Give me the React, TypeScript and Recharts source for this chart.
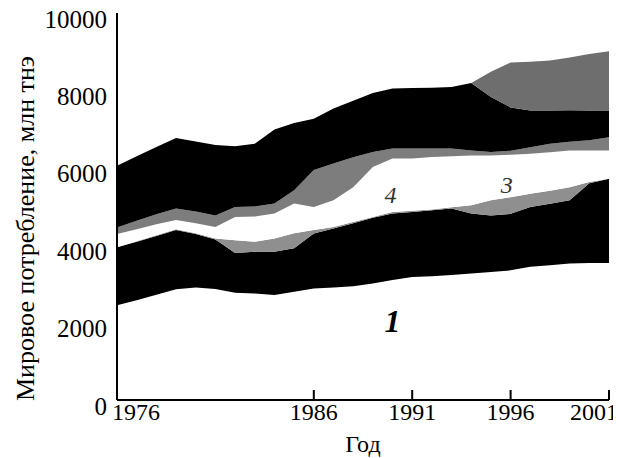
import { AreaChart, Area, XAxis, YAxis, ReferenceDot, Label } from 'recharts';

const years = [
  1976, 1977, 1978, 1979, 1980, 1981, 1982, 1983, 1984, 1985, 1986, 1987, 1988,
  1989, 1990, 1991, 1992, 1993, 1994, 1995, 1996, 1997, 1998, 1999, 2000, 2001,
];

// layer thicknesses, bottom to top (млн тнэ)
const layer1 = [2450, 2580, 2720, 2860, 2910, 2870, 2770, 2750, 2710, 2800, 2880, 2910, 2940, 3010, 3100, 3180, 3200, 3230, 3270, 3310, 3350, 3440, 3480, 3530, 3540, 3540];
const layer2 = [1500, 1510, 1520, 1530, 1380, 1280, 1030, 1080, 1120, 1120, 1420, 1520, 1630, 1700, 1720, 1680, 1700, 1720, 1550, 1460, 1460, 1550, 1590, 1630, 2060, 2180];
const layer2b = [0, 10, 20, 20, 20, 20, 330, 260, 340, 390, 90, 40, 30, 20, 40, 30, 20, 30, 210, 390, 430, 340, 340, 340, 30, 0];
const layer3 = [340, 310, 280, 240, 260, 300, 600, 650, 650, 770, 600, 690, 900, 1290, 1380, 1350, 1360, 1320, 1290, 1160, 1100, 1030, 990, 950, 820, 730];
const layer3b = [170, 220, 260, 300, 300, 300, 260, 260, 260, 340, 950, 950, 770, 390, 260, 260, 220, 200, 130, 90, 100, 170, 220, 220, 260, 340];
const layer4 = [1590, 1670, 1740, 1820, 1810, 1820, 1570, 1620, 1910, 1740, 1330, 1420, 1460, 1520, 1550, 1560, 1570, 1590, 1740, 1420, 1120, 950, 860, 820, 770, 690];
const layer5 = [0, 0, 0, 0, 0, 0, 0, 0, 0, 0, 0, 0, 0, 0, 0, 0, 0, 0, 0, 650, 1160, 1260, 1290, 1360, 1460, 1530];

const xTicks = [1976, 1986, 1991, 1996, 2001];
const yTicks = [0, 2000, 4000, 6000, 8000, 10000];

const data = years.map((year, i) => ({
  year,
  l1: layer1[i],
  l2: layer2[i],
  l2b: layer2b[i],
  l3: layer3[i],
  l3b: layer3b[i],
  l4: layer4[i],
  l5: layer5[i],
}));

const FONT = '"Liberation Serif", "Times New Roman", serif';

const series = [
  { key: 'l1', fill: '#ffffff' },
  { key: 'l2', fill: '#000000' },
  { key: 'l2b', fill: '#8f8f8f' },
  { key: 'l3', fill: '#ffffff' },
  { key: 'l3b', fill: '#7d7d7d' },
  { key: 'l4', fill: '#000000' },
  { key: 'l5', fill: '#6e6e6e' },
];

function YTitle(props: any) {
  const { x, y, height } = props.viewBox;
  const cx = x + 17;
  const cy = y + height / 2 + 22;
  return (
    <text
      x={cx}
      y={cy}
      transform={`rotate(-90 ${cx} ${cy})`}
      textAnchor="middle"
      dominantBaseline="central"
      fontFamily={FONT}
      fontSize={26}
      fill="#000"
    >
      Мировое потребление, млн тнэ
    </text>
  );
}

// first and last year labels sit inside the frame, as in the original figure
function XTick(props: any) {
  const { x, y, payload, index } = props;
  let anchor = 'middle';
  let dx = 0;
  if (index === 0) {
    anchor = 'start';
    dx = -5;
  } else if (index === xTicks.length - 1) {
    anchor = 'end';
    dx = 9;
  }
  return (
    <text x={x + dx} y={y} dy="0.71em" textAnchor={anchor} fontFamily={FONT} fontSize={24} fill="#000">
      {payload.value}
    </text>
  );
}

function YTick(props: any) {
  const { x, y, payload } = props;
  return (
    <text x={x} y={y + 6} textAnchor="end" dominantBaseline="central" fontFamily={FONT} fontSize={25} fill="#000">
      {payload.value}
    </text>
  );
}

export default function App() {
  return (
    <AreaChart
      width={613}
      height={450}
      data={data}
      margin={{ top: 5, right: 12, bottom: 0, left: 0 }}
    >
      {series.map((s) => (
        <Area
          key={s.key}
          type="linear"
          dataKey={s.key}
          stackId="a"
          stroke="none"
          fill={s.fill}
          fillOpacity={1}
          dot={false}
          activeDot={false}
          isAnimationActive={false}
        />
      ))}
      <XAxis
        dataKey="year"
        type="number"
        domain={[1976, 2001]}
        ticks={xTicks}
        height={58}
        tickSize={-10}
        tickMargin={13}
        axisLine={{ stroke: '#000', strokeWidth: 2 }}
        tickLine={{ stroke: '#000', strokeWidth: 2 }}
        tick={<XTick />}
        interval={0}
      >
        <Label
          value="Год"
          position="insideBottom"
          offset={6}
          style={{ fontFamily: FONT, fontSize: 24, fill: '#000' }}
        />
      </XAxis>
      <XAxis
        xAxisId="top"
        orientation="top"
        type="number"
        domain={[1976, 2001]}
        height={0}
        tick={false}
        tickLine={false}
        axisLine={{ stroke: '#000', strokeWidth: 1.5 }}
      />
      <YAxis
        type="number"
        domain={[0, 10000]}
        ticks={yTicks}
        width={109}
        tickSize={0}
        tickMargin={10}
        tickLine={false}
        axisLine={{ stroke: '#000', strokeWidth: 2 }}
        tick={<YTick />}
        interval={0}
      >
        <Label content={YTitle} />
      </YAxis>
      <YAxis
        yAxisId="right"
        orientation="right"
        type="number"
        domain={[0, 10000]}
        width={0}
        tick={false}
        tickLine={false}
        axisLine={{ stroke: '#000', strokeWidth: 2.5 }}
      />
      <ReferenceDot
        x={1990}
        y={2060}
        r={0}
        label={{ value: '1', position: 'center', fontFamily: FONT, fontSize: 32, fontWeight: 'bold', fontStyle: 'italic', fill: '#000' }}
      />
      <ReferenceDot
        x={1989.9}
        y={5300}
        r={0}
        label={{ value: '4', position: 'center', fontFamily: FONT, fontSize: 24, fontStyle: 'italic', fill: '#333' }}
      />
      <ReferenceDot
        x={1995.8}
        y={5560}
        r={0}
        label={{ value: '3', position: 'center', fontFamily: FONT, fontSize: 24, fontStyle: 'italic', fill: '#333' }}
      />
    </AreaChart>
  );
}
